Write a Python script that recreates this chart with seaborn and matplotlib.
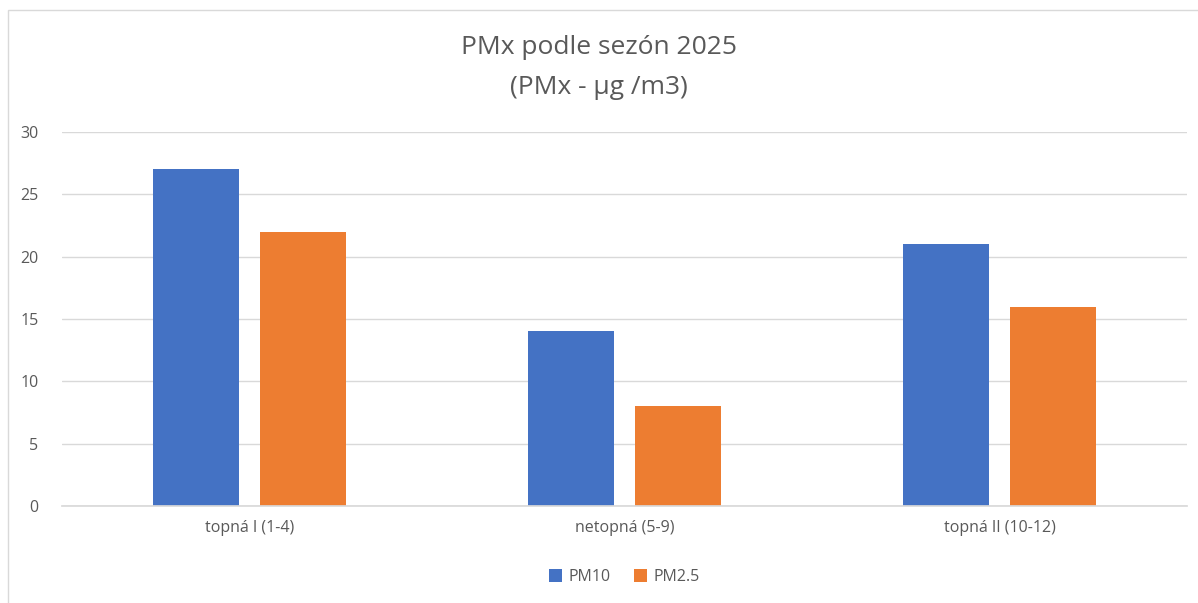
import matplotlib
matplotlib.use("Agg")
import matplotlib.pyplot as plt
import seaborn as sns
import pandas as pd

# data
sezony = ['topná I (1-4)', 'netopná (5-9)', 'topná II (10-12)']
pm10 = [27, 14, 21]
pm25 = [22, 8, 16]
rady = ['PM10', 'PM2.5']
barvy = ['#4472C4', '#ED7D31']

df = pd.DataFrame({
    'sezona': sezony * 2,
    'hodnota': pm10 + pm25,
    'rada': ['PM10'] * 3 + ['PM2.5'] * 3,
})

sns.set_theme(style='white')
plt.rcParams['font.family'] = ['Open Sans', 'DejaVu Sans']

fig = plt.figure(figsize=(11.98, 6.03), dpi=100)
ax = fig.add_axes([62 / 1198, 1 - 506 / 603, (1187 - 62) / 1198, (506 - 132) / 603])

sns.barplot(data=df, x='sezona', y='hodnota', hue='rada', hue_order=rady,
            palette=barvy, width=0.571, gap=0.2, saturation=1, linewidth=0, ax=ax)

ax.set_ylim(0, 30)
ax.set_yticks(range(0, 31, 5))
ax.set_xlim(-0.5, 2.5)
ax.yaxis.grid(True, color='#D9D9D9', linewidth=1)
ax.set_axisbelow(True)
for s in ['top', 'right', 'left']:
    ax.spines[s].set_visible(False)
ax.spines['bottom'].set_color('#D9D9D9')
ax.tick_params(axis='both', colors='#595959', labelsize=11.5, length=0)
ax.tick_params(axis='y', pad=17)
ax.tick_params(axis='x', pad=10)
ax.set_xlabel('')
ax.set_ylabel('')

fig.text(0.5, 1 - 48 / 603, 'PMx podle sezón 2025', ha='center', va='center',
         fontsize=19, color='#595959')
fig.text(0.5, 1 - 88 / 603, '(PMx - µg /m3)', ha='center', va='center',
         fontsize=19, color='#595959')

ax.legend(loc='center', bbox_to_anchor=(0.5, (506 - 577) / 374), ncol=2, frameon=False,
          fontsize=11.5, labelcolor='#595959', handlelength=0.8, handleheight=0.8,
          handletextpad=0.4, columnspacing=1.5)

# light border around the chart
fig.patches.append(plt.Rectangle((8 / 1198, -0.01), 1.02, 1 - 10 / 603 + 0.01,
                                 transform=fig.transFigure, fill=False,
                                 edgecolor='#D9D9D9', linewidth=1))

fig.savefig('out.png', dpi=100)
